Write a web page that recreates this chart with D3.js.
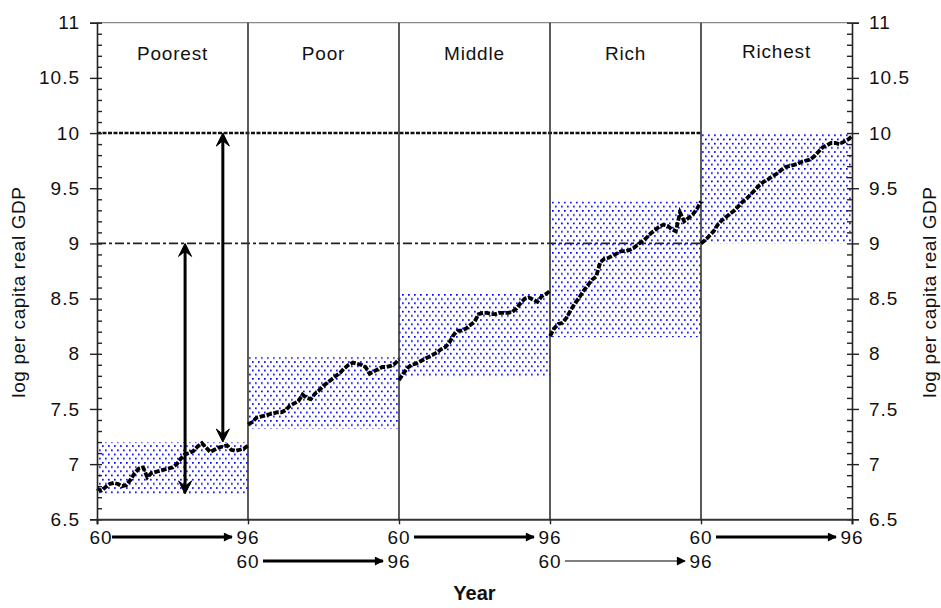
<!DOCTYPE html>
<html>
<head>
<meta charset="utf-8">
<script src="https://cdn.jsdelivr.net/npm/d3@7"></script>
<style>
  html, body { margin: 0; padding: 0; background: #fff; }
  svg text { font-family: "Liberation Sans", Arial, sans-serif; fill: #111; }
</style>
</head>
<body>
<div id="chart"></div>
<script>
// income groups, one panel each
const groups = ['Poorest', 'Poor', 'Middle', 'Rich', 'Richest'];
const years = d3.range(60, 97); // 1960 .. 1996

// log per capita real GDP
const poorest = [6.78, 6.76, 6.79, 6.82, 6.83, 6.82, 6.80, 6.81, 6.86, 6.92, 6.96, 6.97, 6.88, 6.92, 6.93, 6.94, 6.95, 6.96, 6.97, 7.00,
  7.05, 7.09, 7.10, 7.12, 7.16, 7.19, 7.15, 7.11, 7.13, 7.15, 7.16, 7.17, 7.13, 7.12, 7.13, 7.14, 7.17];
const poor = [7.36, 7.38, 7.42, 7.43, 7.44, 7.45, 7.46, 7.47, 7.47, 7.49, 7.53, 7.55, 7.57, 7.63, 7.60, 7.59, 7.64, 7.67, 7.71, 7.74,
  7.77, 7.80, 7.83, 7.87, 7.90, 7.92, 7.91, 7.90, 7.88, 7.82, 7.84, 7.86, 7.88, 7.88, 7.89, 7.91, 7.95];
const middle = [7.76, 7.82, 7.87, 7.90, 7.91, 7.93, 7.95, 7.97, 7.99, 8.01, 8.04, 8.06, 8.10, 8.17, 8.21, 8.21, 8.23, 8.26, 8.29, 8.36,
  8.37, 8.37, 8.36, 8.36, 8.37, 8.37, 8.37, 8.38, 8.41, 8.46, 8.50, 8.51, 8.49, 8.47, 8.52, 8.54, 8.57];
const rich = [8.16, 8.23, 8.27, 8.28, 8.33, 8.40, 8.46, 8.51, 8.57, 8.62, 8.67, 8.70, 8.83, 8.86, 8.87, 8.89, 8.91, 8.93, 8.93, 8.94,
  8.96, 8.99, 9.02, 9.05, 9.09, 9.12, 9.15, 9.17, 9.16, 9.13, 9.11, 9.28, 9.20, 9.23, 9.26, 9.31, 9.38];
const richest = [9.00, 9.03, 9.07, 9.11, 9.17, 9.21, 9.24, 9.27, 9.30, 9.34, 9.38, 9.41, 9.45, 9.49, 9.53, 9.56, 9.58, 9.61, 9.63, 9.66,
  9.69, 9.70, 9.71, 9.72, 9.74, 9.75, 9.76, 9.79, 9.83, 9.87, 9.89, 9.91, 9.91, 9.90, 9.92, 9.94, 9.97];
const series = [poorest, poor, middle, rich, richest];

// shaded range of each group
const bandLow = [6.73, 7.32, 7.78, 8.15, 9.0];
const bandHigh = [7.2, 7.97, 8.55, 9.38, 10.0];

// y ticks
const majorTicks = d3.range(6.5, 11.01, 0.5).map(d => +d.toFixed(1));
const minorTicks = d3.range(6.5, 11.01, 0.1).map(d => +d.toFixed(1));

// reference levels and the two double arrows in the poorest panel (year, from, to)
const refLevels = [9, 10];
const arrows = [
  { year: 81, from: 6.73, to: 9 },
  { year: 90, from: 7.2, to: 10 }
];

const width = 941;
const height = 608;
const marginTop = 22.7;
const marginRight = 89;
const marginBottom = 88.7;
const marginLeft = 97;

const svg = d3.select('#chart')
  .append('svg')
  .attr('width', width)
  .attr('height', height)
  .attr('viewBox', [0, 0, width, height]);

const y = d3.scaleLinear()
  .domain([6.5, 11])
  .range([height - marginBottom, marginTop]);

const panelX = d3.scaleLinear()
  .domain([0, groups.length])
  .range([marginLeft, width - marginRight]);

const xYear = i => d3.scaleLinear()
  .domain([60, 96])
  .range([panelX(i), panelX(i + 1)]);

// dotted fill
const defs = svg.append('defs');
const pat = defs.append('pattern')
  .attr('id', 'dots')
  .attr('patternUnits', 'userSpaceOnUse')
  .attr('width', 6)
  .attr('height', 8.4);
pat.append('rect').attr('x', 0).attr('y', 0).attr('width', 1.7).attr('height', 1.7).attr('fill', '#0000ff');
pat.append('rect').attr('x', 3).attr('y', 4.2).attr('width', 1.7).attr('height', 1.7).attr('fill', '#0000ff');

// shaded bands
svg.append('g')
  .selectAll('rect')
  .data(groups)
  .join('rect')
  .attr('x', (d, i) => panelX(i))
  .attr('width', (d, i) => panelX(i + 1) - panelX(i))
  .attr('y', (d, i) => y(bandHigh[i]))
  .attr('height', (d, i) => y(bandLow[i]) - y(bandHigh[i]))
  .attr('fill', 'url(#dots)');

// reference lines at 9 and 10
svg.append('line')
  .attr('x1', panelX(0)).attr('x2', panelX(4))
  .attr('y1', y(refLevels[1])).attr('y2', y(refLevels[1]))
  .attr('stroke', '#111')
  .attr('stroke-width', 2.6)
  .attr('stroke-dasharray', '4,1.5');

svg.append('line')
  .attr('x1', panelX(0)).attr('x2', panelX(4))
  .attr('y1', y(refLevels[0])).attr('y2', y(refLevels[0]))
  .attr('stroke', '#222')
  .attr('stroke-width', 1.8)
  .attr('stroke-dasharray', '9,3,3,3');

// top border
svg.append('line')
  .attr('x1', panelX(0)).attr('x2', panelX(5))
  .attr('y1', y(11)).attr('y2', y(11))
  .attr('stroke', '#888')
  .attr('stroke-width', 1.3);

// panel dividers
svg.append('g')
  .selectAll('line')
  .data(d3.range(1, groups.length))
  .join('line')
  .attr('x1', d => panelX(d)).attr('x2', d => panelX(d))
  .attr('y1', y(11)).attr('y2', y(6.5))
  .attr('stroke', '#333')
  .attr('stroke-width', 1.6);

// panel names
svg.append('g')
  .selectAll('text')
  .data(groups)
  .join('text')
  .attr('x', (d, i) => (panelX(i) + panelX(i + 1)) / 2)
  .attr('y', (d, i) => i === 4 ? 58 : 60)
  .attr('text-anchor', 'middle')
  .style('font-size', '19px')
  .style('letter-spacing', '0.8px')
  .text(d => d);

// data series
const line = d3.line();
series.forEach((vals, i) => {
  const x = xYear(i);
  svg.append('path')
    .datum(vals.map((v, k) => [x(years[k]), y(v)]))
    .attr('fill', 'none')
    .attr('stroke', '#000')
    .attr('stroke-width', 3.8)
    .attr('stroke-dasharray', '5.5,1.6')
    .attr('d', line);
});

// double arrows
const arrowHead = (cx, cy, dir) => {
  // dir -1 = up, 1 = down
  const h = 13, w = 6.5;
  return `M${cx},${cy} L${cx - w},${cy - dir * h} L${cx},${cy - dir * h * 0.6} L${cx + w},${cy - dir * h} Z`;
};
arrows.forEach(a => {
  const cx = xYear(0)(a.year);
  svg.append('line')
    .attr('x1', cx).attr('x2', cx)
    .attr('y1', y(a.from) - 6).attr('y2', y(a.to) + 6)
    .attr('stroke', '#000')
    .attr('stroke-width', 3);
  svg.append('path').attr('d', arrowHead(cx, y(a.to), -1)).attr('fill', '#000').attr('stroke', '#000').attr('stroke-width', 1);
  svg.append('path').attr('d', arrowHead(cx, y(a.from), 1)).attr('fill', '#000').attr('stroke', '#000').attr('stroke-width', 1);
});

// y axes
const tickFmt = d => String(d);
const leftAxis = svg.append('g')
  .attr('transform', `translate(${marginLeft},0)`)
  .call(d3.axisLeft(y).tickValues(majorTicks).tickSize(7).tickPadding(10).tickFormat(tickFmt));
svg.append('g')
  .attr('transform', `translate(${marginLeft},0)`)
  .call(d3.axisRight(y).tickValues(minorTicks).tickSize(5).tickFormat(''))
  .call(g => g.select('.domain').remove());

const rightAxis = svg.append('g')
  .attr('transform', `translate(${width - marginRight},0)`)
  .call(d3.axisRight(y).tickValues(majorTicks).tickSize(7).tickPadding(10).tickFormat(tickFmt));
svg.append('g')
  .attr('transform', `translate(${width - marginRight},0)`)
  .call(d3.axisLeft(y).tickValues(minorTicks).tickSize(5).tickFormat(''))
  .call(g => g.select('.domain').remove());

[leftAxis, rightAxis].forEach(g => {
  g.select('.domain').attr('stroke', '#222').attr('stroke-width', 1.6);
  g.selectAll('.tick text')
    .style('font-size', '19px')
    .style('letter-spacing', '1px')
    .style('font-family', '"Liberation Sans", Arial, sans-serif')
    .attr('fill', '#111');
});
svg.selectAll('.tick line').attr('stroke', '#222').attr('stroke-width', 1.4);

// x axis line with ticks at panel boundaries
svg.append('g')
  .attr('transform', `translate(0,${height - marginBottom})`)
  .call(d3.axisBottom(panelX).tickValues(d3.range(0, groups.length + 1)).tickSize(5).tickFormat(''))
  .call(g => g.select('.domain').attr('stroke', '#333').attr('stroke-width', 2))
  .call(g => g.selectAll('.tick line').attr('stroke', '#222').attr('stroke-width', 1.4));

// year range labels under each panel
const rowY = [537, 561];
const marker = defs.append('marker')
  .attr('id', 'head')
  .attr('viewBox', '0 0 10 10')
  .attr('refX', 9).attr('refY', 5)
  .attr('markerUnits', 'userSpaceOnUse')
  .attr('markerWidth', 10).attr('markerHeight', 9)
  .attr('orient', 'auto');
marker.append('path').attr('d', 'M0,0 L10,5 L0,10 Z').attr('fill', '#000');

groups.forEach((g, i) => {
  const row = rowY[i % 2];
  const x0 = panelX(i), x1 = panelX(i + 1);
  svg.append('text')
    .attr('x', i === 0 ? x0 + 4 : x0)
    .attr('y', row)
    .attr('dy', '0.35em')
    .attr('text-anchor', 'middle')
    .style('font-size', '19px')
    .style('letter-spacing', '1px')
    .text('60');
  svg.append('text')
    .attr('x', x1)
    .attr('y', row)
    .attr('dy', '0.35em')
    .attr('text-anchor', 'middle')
    .style('font-size', '19px')
    .style('letter-spacing', '1px')
    .text('96');
  svg.append('line')
    .attr('x1', x0 + 15).attr('x2', x1 - 16)
    .attr('y1', row).attr('y2', row)
    .attr('stroke', '#000')
    .attr('stroke-width', i === 3 ? 1.2 : 3)
    .attr('marker-end', 'url(#head)');
});

// axis titles
svg.append('text')
  .attr('x', (marginLeft + width - marginRight) / 2)
  .attr('y', 600)
  .attr('text-anchor', 'middle')
  .style('font-size', '20px')
  .style('font-weight', 'bold')
  .text('Year');

svg.append('text')
  .attr('transform', 'translate(25,292) rotate(-90)')
  .attr('text-anchor', 'middle')
  .style('font-size', '19px')
  .style('letter-spacing', '0.6px')
  .text('log per capita real GDP');

svg.append('text')
  .attr('transform', 'translate(936,292) rotate(-90)')
  .attr('text-anchor', 'middle')
  .style('font-size', '19px')
  .style('letter-spacing', '0.6px')
  .text('log per capita real GDP');
</script>
</body>
</html>
